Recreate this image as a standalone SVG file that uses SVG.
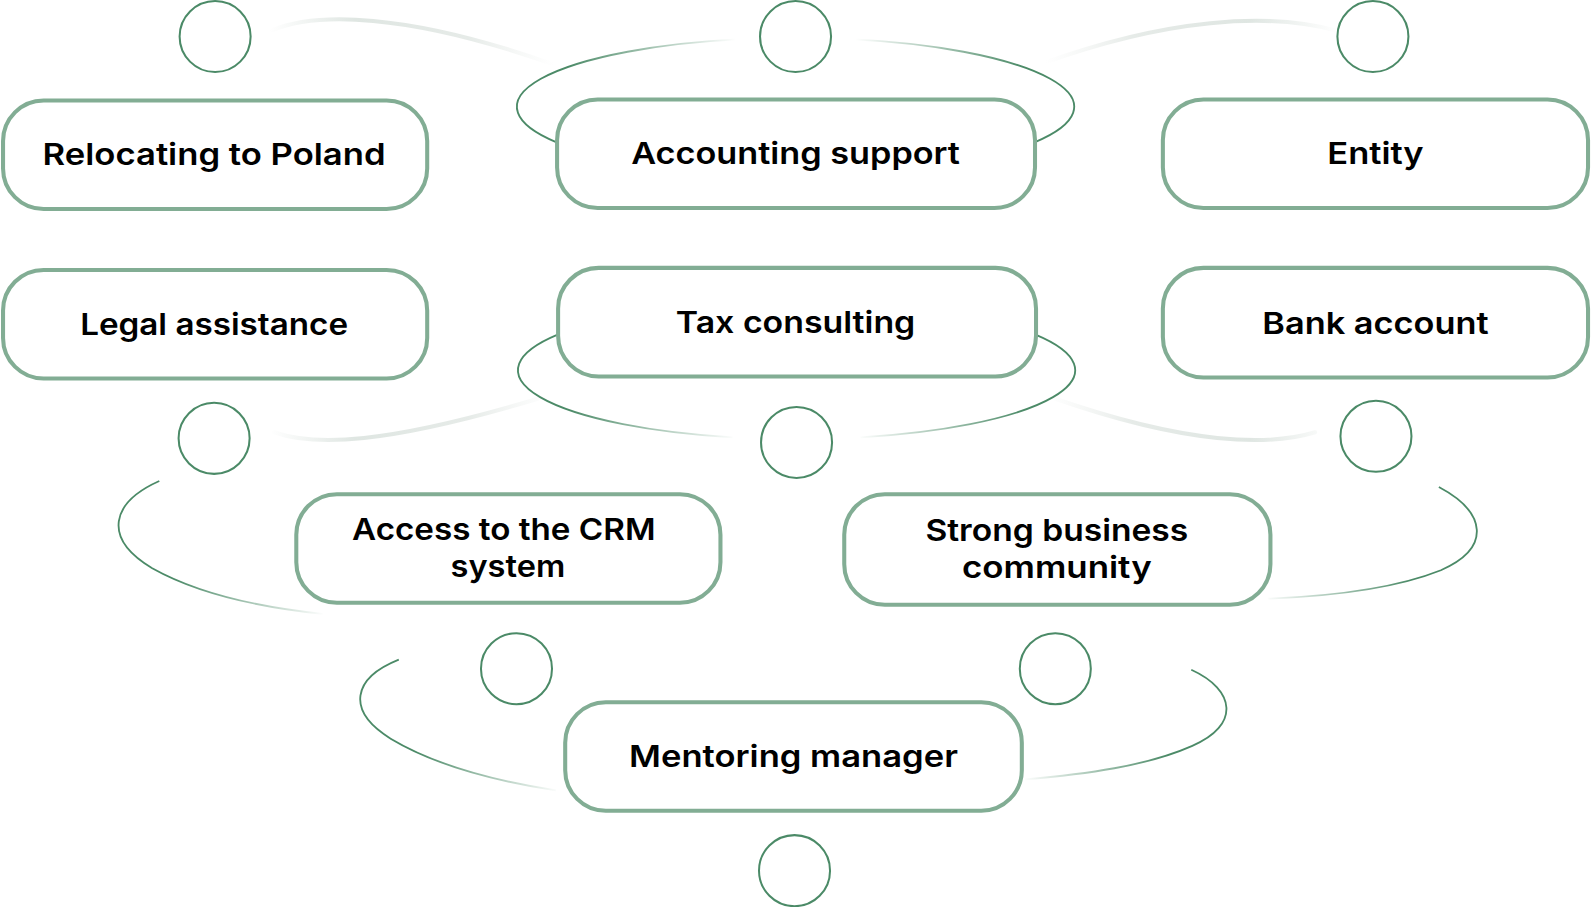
<svg xmlns="http://www.w3.org/2000/svg" width="1591" height="907" viewBox="0 0 1591 907">
<style>
.box{fill:#fff;stroke:#82ad94;stroke-width:4}
.dot{fill:none;stroke:#4b8a67;stroke-width:2}
.arc{fill:none;stroke-width:1.8}
.faint{fill:none;stroke-width:4;stroke-linecap:round}
.lbl{font-family:Inter,"Noto Sans","Liberation Sans",sans-serif;font-weight:600;font-size:30px;fill:#000;text-anchor:middle}
</style>
<defs>
<linearGradient id="gA1" gradientUnits="userSpaceOnUse" x1="560" y1="0" x2="725" y2="0"><stop offset="0" stop-color="#4b8a67"/><stop offset="1" stop-color="#4b8a67" stop-opacity="0"/></linearGradient>
<linearGradient id="gA2" gradientUnits="userSpaceOnUse" x1="1008" y1="0" x2="843" y2="0"><stop offset="0" stop-color="#4b8a67"/><stop offset="1" stop-color="#4b8a67" stop-opacity="0"/></linearGradient>
<linearGradient id="gB1" gradientUnits="userSpaceOnUse" x1="560" y1="0" x2="725" y2="0"><stop offset="0" stop-color="#4b8a67"/><stop offset="1" stop-color="#4b8a67" stop-opacity="0"/></linearGradient>
<linearGradient id="gB2" gradientUnits="userSpaceOnUse" x1="1010" y1="0" x2="845" y2="0"><stop offset="0" stop-color="#4b8a67"/><stop offset="1" stop-color="#4b8a67" stop-opacity="0"/></linearGradient>
<linearGradient id="gC1" gradientUnits="userSpaceOnUse" x1="170" y1="0" x2="320" y2="0"><stop offset="0" stop-color="#4b8a67"/><stop offset="1" stop-color="#4b8a67" stop-opacity="0"/></linearGradient>
<linearGradient id="gC2" gradientUnits="userSpaceOnUse" x1="1390" y1="0" x2="1245" y2="0"><stop offset="0" stop-color="#4b8a67"/><stop offset="1" stop-color="#4b8a67" stop-opacity="0"/></linearGradient>
<linearGradient id="gD1" gradientUnits="userSpaceOnUse" x1="410" y1="0" x2="552" y2="0"><stop offset="0" stop-color="#4b8a67"/><stop offset="1" stop-color="#4b8a67" stop-opacity="0"/></linearGradient>
<linearGradient id="gD2" gradientUnits="userSpaceOnUse" x1="1150" y1="0" x2="1008" y2="0"><stop offset="0" stop-color="#4b8a67"/><stop offset="1" stop-color="#4b8a67" stop-opacity="0"/></linearGradient>
<linearGradient id="gF1" gradientUnits="userSpaceOnUse" x1="266" y1="0" x2="546" y2="0"><stop offset="0" stop-color="#dfe6e2" stop-opacity="0"/><stop offset="0.3" stop-color="#dfe6e2"/><stop offset="0.7" stop-color="#e6ebe8"/><stop offset="1" stop-color="#eef1ef" stop-opacity="0"/></linearGradient>
<linearGradient id="gF2" gradientUnits="userSpaceOnUse" x1="1318" y1="0" x2="1030" y2="0"><stop offset="0" stop-color="#dfe6e2" stop-opacity="0"/><stop offset="0.3" stop-color="#dfe6e2"/><stop offset="0.7" stop-color="#e6ebe8"/><stop offset="1" stop-color="#eef1ef" stop-opacity="0"/></linearGradient>
</defs>
<rect width="1591" height="907" fill="#fff"/>
<g transform="scale(1.01472)">
<g id="connectors">
<path class="faint" stroke="url(#gF1)" d="M268,30 C310,12 400,12 544,63"/>
<path class="faint" stroke="url(#gF2)" d="M1026,63 C1150,18 1250,12 1316,30"/>
<path class="faint" stroke="url(#gF1)" d="M270,426 C310,440 380,438 530,393"/>
<path class="faint" stroke="url(#gF2)" d="M1040,393 C1170,438 1250,440 1296,426"/>
<path class="arc" stroke="url(#gA1)" d="M548,140 A275,68 0 0 1 730,38.6"/>
<path class="arc" stroke="url(#gA2)" d="M1020,140 A275,68 0 0 0 838,38.6"/>
<path class="arc" stroke="url(#gB1)" d="M549,330 A274,68 0 0 0 722,431"/>
<path class="arc" stroke="url(#gB2)" d="M1021,330 A274,68 0 0 1 848,431"/>
<path class="arc" stroke="url(#gC1)" d="M157,474 C110,495 100,530 150,560 C200,588 270,600 318,605"/>
<path class="arc" stroke="url(#gC2)" d="M1418,480 C1465,505 1470,540 1420,562 C1370,582 1300,588 1250,590"/>
<path class="arc" stroke="url(#gD1)" d="M393,650 C348,668 340,700 385,728 C430,755 490,770 548,779"/>
<path class="arc" stroke="url(#gD2)" d="M1174,660 C1218,680 1222,715 1175,735 C1130,755 1070,763 1010,768"/>
</g>
<g id="dots">
<circle class="dot" cx="212" cy="36" r="35"/>
<circle class="dot" cx="784" cy="36" r="35"/>
<circle class="dot" cx="1353" cy="36" r="35"/>
<circle class="dot" cx="211" cy="432" r="35"/>
<circle class="dot" cx="785" cy="436" r="35"/>
<circle class="dot" cx="1356" cy="430" r="35"/>
<circle class="dot" cx="509" cy="659" r="35"/>
<circle class="dot" cx="1040" cy="659" r="35"/>
<circle class="dot" cx="783" cy="858" r="35"/>
</g>
<g id="n-relocating"><rect class="box" x="3" y="99" width="418" height="107" rx="40"/><text class="lbl" x="211" y="163" textLength="338" lengthAdjust="spacingAndGlyphs">Relocating to Poland</text></g>
<g id="n-accounting"><rect class="box" x="549" y="98" width="471" height="107" rx="40"/><text class="lbl" x="784" y="162" textLength="324" lengthAdjust="spacingAndGlyphs">Accounting support</text></g>
<g id="n-entity"><rect class="box" x="1146" y="98" width="419" height="107" rx="40"/><text class="lbl" x="1355.5" y="162" textLength="95" lengthAdjust="spacingAndGlyphs">Entity</text></g>
<g id="n-legal"><rect class="box" x="3" y="266" width="418" height="107" rx="40"/><text class="lbl" x="211" y="330" textLength="264" lengthAdjust="spacingAndGlyphs">Legal assistance</text></g>
<g id="n-tax"><rect class="box" x="550" y="264" width="471" height="107" rx="40"/><text class="lbl" x="784" y="328" textLength="236" lengthAdjust="spacingAndGlyphs">Tax consulting</text></g>
<g id="n-bank"><rect class="box" x="1146" y="264" width="419" height="108" rx="40"/><text class="lbl" x="1355.5" y="329" textLength="223" lengthAdjust="spacingAndGlyphs">Bank account</text></g>
<g id="n-crm"><rect class="box" x="292" y="487" width="418" height="107" rx="40"/><text class="lbl" x="496.5" y="532" textLength="299" lengthAdjust="spacingAndGlyphs">Access to the CRM</text><text class="lbl" x="500.5" y="569" textLength="113" lengthAdjust="spacingAndGlyphs">system</text></g>
<g id="n-community"><rect class="box" x="832" y="487" width="420" height="109" rx="40"/><text class="lbl" x="1041.5" y="533" textLength="259" lengthAdjust="spacingAndGlyphs">Strong business</text><text class="lbl" x="1041.5" y="570" textLength="187" lengthAdjust="spacingAndGlyphs">community</text></g>
<g id="n-mentoring"><rect class="box" x="557" y="692" width="450" height="107" rx="40"/><text class="lbl" x="782" y="756" textLength="324" lengthAdjust="spacingAndGlyphs">Mentoring manager</text></g>
</g>
</svg>
